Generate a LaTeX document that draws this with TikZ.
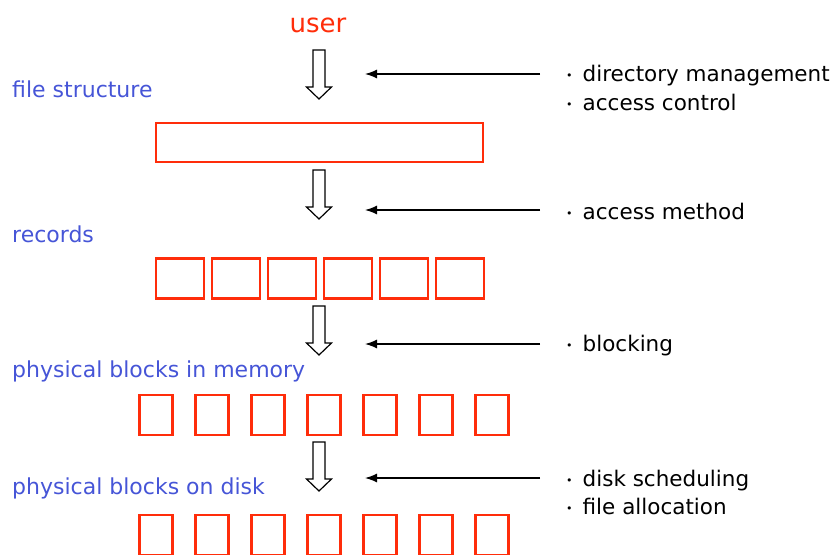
\documentclass[tikz,border=0pt]{standalone}
\usepackage{fontspec}
\setmainfont{DejaVu Sans}
\usetikzlibrary{arrows.meta, positioning}
\definecolor{boxred}{RGB}{255,45,10}
\definecolor{labelblue}{RGB}{70,85,215}

\newcommand{\hollowarrow}[1]{%
  \draw[blockarrow] (#1) ++(-6,0) -- ++(0,37) -- ++(-6.5,0) -- ++(12.5,12)
    -- ++(12.5,-12) -- ++(-6.5,0) -- ++(0,-37) -- cycle;}
\newcommand{\pt}{\raisebox{2pt}{\fontsize{11}{11}\selectfont\textbullet}\hspace{10pt}}

\begin{document}
\begin{tikzpicture}[
    x=1pt, y=-1pt,
    every node/.style={font=\fontsize{22}{26}\selectfont},
    level/.style={anchor=base west, text=labelblue, inner sep=0pt},
    note/.style={anchor=base west, text=black, inner sep=0pt, font=\fontsize{21.5}{26}\selectfont},
    redbox/.style={draw=boxred, line width=2.4pt, inner sep=0pt},
    blockarrow/.style={draw=black, line width=1.2pt, fill=white},
    every edge/.append style={line width=1.3pt, -{Latex[length=12pt, width=9pt]}}
]
   \clip (0,0) rectangle (837,554);

   % User and levels
   \node[anchor=base, text=boxred, inner sep=0pt, font=\fontsize{26}{30}\selectfont] (user) at (318,32) {user};
   \node[level] (fs) at (12,97) {file structure};
   \node[level] (rec) at (12,242) {records};
   \node[level] (mem) at (12,377) {physical blocks in memory};
   \node[level] (disk) at (12,494) {physical blocks on disk};

   % Boxes
   \node[redbox, minimum width=327pt, minimum height=39pt] (fsbox) at (319.5,142.5) {};
   \foreach \i in {0,...,5}
      \node[redbox, minimum width=48pt, minimum height=40pt] (rec\i) at (180+56*\i,278.5) {};
   \foreach \i in {0,...,6} {
      \node[redbox, minimum width=33pt, minimum height=40pt] (mem\i) at (156+56*\i,415) {};
      \node[redbox, minimum width=33pt, minimum height=40pt] (disk\i) at (156+56*\i,535) {};
   }

   % Block arrows
   \coordinate (a1) at (319,50);
   \coordinate (a2) at (319,170);
   \coordinate (a3) at (319,306);
   \coordinate (a4) at (319,442);
   \hollowarrow{a1}
   \hollowarrow{a2}
   \hollowarrow{a3}
   \hollowarrow{a4}

   % Notes
   \node[note] (dir) at (566,81) {\pt directory management};
   \node[note] (acc) at (566,110) {\pt access control};
   \node[note] (meth) at (566,219) {\pt access method};
   \node[note] (blk) at (566,351) {\pt blocking};
   \node[note] (sched) at (566,486) {\pt disk scheduling};
   \node[note] (alloc) at (566,514) {\pt file allocation};

   % Thin arrows
   \coordinate (s1) at (540,74);  \coordinate (t1) at (365,74);
   \coordinate (s2) at (540,210); \coordinate (t2) at (365,210);
   \coordinate (s3) at (540,344); \coordinate (t3) at (365,344);
   \coordinate (s4) at (540,478); \coordinate (t4) at (365,478);
   \path (s1) edge (t1)
         (s2) edge (t2)
         (s3) edge (t3)
         (s4) edge (t4);
\end{tikzpicture}
\end{document}
